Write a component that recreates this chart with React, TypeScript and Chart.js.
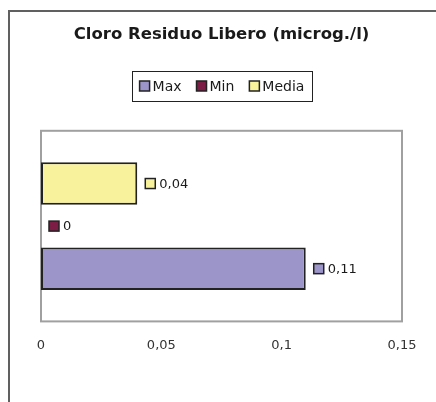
import React, { useEffect, useRef } from 'react';
import { Chart, registerables } from 'chart.js';

Chart.register(...registerables);

const TITLE = 'Cloro Residuo Libero (microg./l)';
const CATEGORIES = [''];
const LEGEND_ORDER = ['Max', 'Min', 'Media'];
const MAX_VALUES = [0.11];
const MIN_VALUES = [0];
const MEDIA_VALUES = [0.04];
const X_TICKS = [0, 0.05, 0.1, 0.15];
const COLORS: Record<string, string> = { Max: '#9c95ca', Min: '#7b1d44', Media: '#f8f29c' };

const FONT = 'DejaVu Sans';
const fmt = (v: number) => String(Number(v.toFixed(4))).replace('.', ',');

const decorPlugin = {
  id: 'decor',
  beforeDraw(chart: any) {
    const ctx = chart.ctx;
    ctx.save();
    ctx.fillStyle = '#ffffff';
    ctx.fillRect(0, 0, chart.width, chart.height);
    ctx.strokeStyle = '#606060';
    ctx.lineWidth = 2;
    ctx.beginPath();
    ctx.moveTo(9, chart.height + 2);
    ctx.lineTo(9, 11);
    ctx.lineTo(chart.width + 2, 11);
    ctx.stroke();
    ctx.restore();
  },
  beforeDatasetsDraw(chart: any) {
    const { left, top, right, bottom } = chart.chartArea;
    const ctx = chart.ctx;
    ctx.save();
    ctx.strokeStyle = '#a0a0a0';
    ctx.lineWidth = 2;
    ctx.strokeRect(left, top, right - left, bottom - top);
    ctx.restore();
  },
  afterDatasetsDraw(chart: any) {
    const ctx = chart.ctx;
    ctx.save();
    ctx.font = `13px "${FONT}"`;
    ctx.textBaseline = 'middle';
    ctx.textAlign = 'left';
    chart.data.datasets.forEach((ds: any, i: number) => {
      const meta = chart.getDatasetMeta(i);
      meta.data.forEach((el: any, j: number) => {
        const x = el.x;
        const y = el.y;
        ctx.fillStyle = ds.backgroundColor;
        ctx.fillRect(x + 8, y - 5, 10, 10);
        ctx.strokeStyle = '#222';
        ctx.lineWidth = 1.5;
        ctx.strokeRect(x + 8, y - 5, 10, 10);
        ctx.fillStyle = '#1a1a1a';
        ctx.fillText(fmt(ds.data[j]), x + 22, y + 1);
      });
    });
    ctx.restore();
  },
  afterDraw(chart: any) {
    const ctx = chart.ctx;
    ctx.save();
    ctx.font = `14px "${FONT}"`;
    ctx.textBaseline = 'middle';
    ctx.textAlign = 'left';
    const box = 10, gapText = 3, gapItem = 15;
    const widths = LEGEND_ORDER.map((n) => ctx.measureText(n).width);
    const total = widths.reduce((a, w) => a + box + gapText + w, 0) + gapItem * (LEGEND_ORDER.length - 1);
    const cx = 222, cy = 86;
    let x = cx - total / 2;
    ctx.strokeStyle = '#222';
    ctx.lineWidth = 1;
    ctx.strokeRect(132.5, 71.5, 180, 30);
    LEGEND_ORDER.forEach((n, i) => {
      ctx.fillStyle = COLORS[n];
      ctx.fillRect(x, cy - 5, box, box);
      ctx.strokeStyle = '#222';
      ctx.lineWidth = 1.5;
      ctx.strokeRect(x, cy - 5, box, box);
      ctx.fillStyle = '#1a1a1a';
      ctx.fillText(n, x + box + gapText, cy + 1);
      x += box + gapText + widths[i] + gapItem;
    });
    ctx.restore();
  },
};

export default function App() {
  const ref = useRef<HTMLCanvasElement>(null);
  useEffect(() => {
    if (!ref.current) return;
    Chart.defaults.font.family = FONT;
    const chart = new Chart(ref.current, {
      type: 'bar',
      data: {
        labels: CATEGORIES,
        datasets: [
          { label: 'Media', data: MEDIA_VALUES, backgroundColor: COLORS.Media },
          { label: 'Min', data: MIN_VALUES, backgroundColor: COLORS.Min },
          { label: 'Max', data: MAX_VALUES, backgroundColor: COLORS.Max },
        ].map((d) => ({
          ...d,
          borderColor: '#222',
          borderWidth: 2,
          borderSkipped: false,
          categoryPercentage: 0.67,
          barPercentage: 1,
        })),
      },
      options: {
        indexAxis: 'y',
        responsive: false,
        animation: false,
        layout: { padding: { left: 41, right: 34, top: 0, bottom: 33 } },
        plugins: {
          legend: { display: false },
          tooltip: { enabled: false },
          title: {
            display: true,
            text: TITLE,
            color: '#1a1a1a',
            font: { family: FONT, size: 16.5, weight: 'bold' },
            padding: { top: 25, bottom: 86 },
          },
        },
        scales: {
          x: {
            type: 'linear',
            min: 0,
            max: 0.15,
            afterBuildTicks: (axis: any) => {
              axis.ticks = X_TICKS.map((v) => ({ value: v }));
            },
            grid: { display: false, drawTicks: false },
            border: { display: false },
            ticks: {
              padding: 16,
              color: '#333',
              font: { family: FONT, size: 13 },
              callback: (v: any) => fmt(Number(v)),
            },
          },
          y: {
            display: false,
          },
        },
      },
      plugins: [decorPlugin],
    });
    return () => chart.destroy();
  }, []);
  return (
    <div style={{ position: 'absolute', left: 0, top: 0, width: 436, height: 402 }}>
      <canvas ref={ref} width={436} height={402} style={{ display: 'block' }} />
    </div>
  );
}
